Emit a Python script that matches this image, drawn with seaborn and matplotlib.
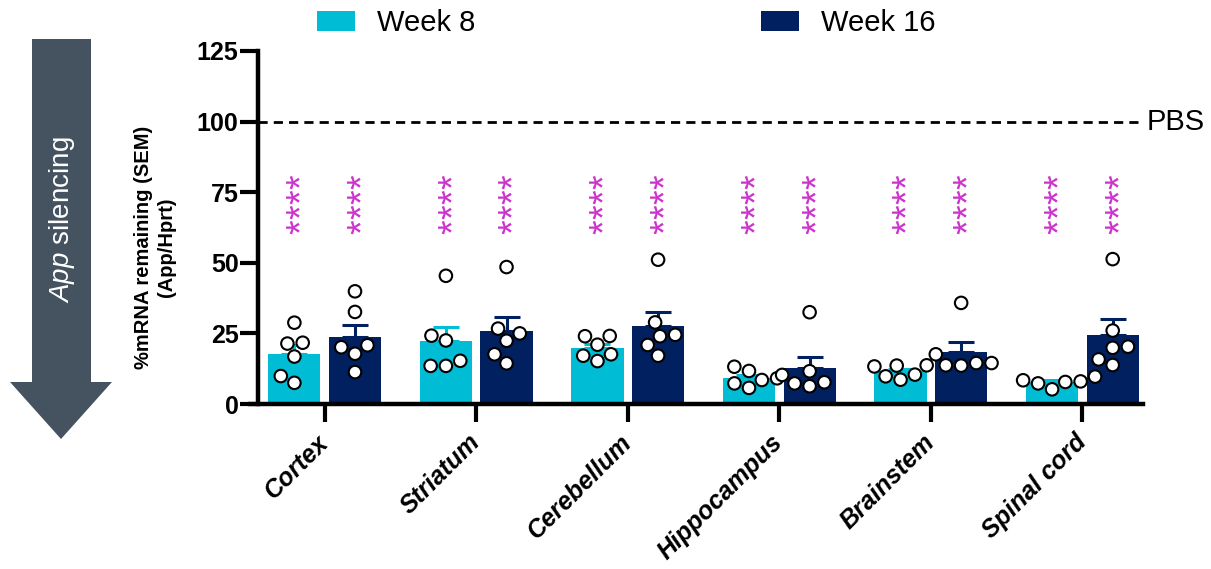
import numpy as np
import pandas as pd
import matplotlib
matplotlib.use("Agg")
import matplotlib.pyplot as plt
from matplotlib.patches import Polygon
import matplotlib.transforms as mtransforms
import seaborn as sns

# ---- data -------------------------------------------------------------
tissues = ["Cortex", "Striatum", "Cerebellum", "Hippocampus", "Brainstem", "Spinal cord"]
weeks = ["Week 8", "Week 16"]

# individual animals, % mRNA remaining (App/Hprt), one list per tissue
week8_points = [
    [28.8, 21.7, 21.4, 16.8, 9.9, 7.5],
    [45.4, 24.2, 22.5, 15.3, 13.5, 13.5],
    [24.0, 24.1, 21.0, 17.6, 17.1, 15.2],
    [13.2, 11.7, 9.1, 8.5, 7.3, 5.7],
    [13.7, 13.6, 13.3, 10.4, 9.8, 8.6],
    [9.7, 8.4, 8.0, 7.8, 7.3, 5.2],
]
week16_points = [
    [39.9, 32.6, 20.8, 20.1, 17.8, 11.3],
    [48.5, 26.7, 25.0, 22.4, 17.6, 14.4],
    [51.1, 28.9, 24.5, 24.0, 20.9, 17.1],
    [32.5, 11.6, 10.3, 7.7, 7.3, 6.3],
    [35.8, 17.6, 14.5, 14.5, 13.7, 13.6],
    [51.3, 26.0, 20.3, 19.9, 15.8, 13.8],
]
significance = ["****"] * 12
pbs_level = 100
y_ticks = [0, 25, 50, 75, 100, 125]

rows = []
for week, groups in zip(weeks, [week8_points, week16_points]):
    for tissue, vals in zip(tissues, groups):
        for v in vals:
            rows.append({"tissue": tissue, "week": week, "value": v})
df = pd.DataFrame(rows)

# ---- style ------------------------------------------------------------
sns.set_style("ticks")
plt.rcParams["font.family"] = ["Liberation Sans", "DejaVu Sans"]
plt.rcParams["mathtext.fontset"] = "custom"
plt.rcParams["mathtext.it"] = "Liberation Sans:italic"
plt.rcParams["mathtext.rm"] = "Liberation Sans"
for key in ["text.color", "axes.edgecolor", "axes.labelcolor",
            "xtick.color", "ytick.color"]:
    plt.rcParams[key] = "black"

cyan = "#00BCD4"
navy = "#00205F"
magenta = "#CC33CC"
palette = {"Week 8": cyan, "Week 16": navy}

W, H = 1211, 569
fig = plt.figure(figsize=(W / 100, H / 100), dpi=100)
ax = fig.add_axes([258 / W, 1 - 404 / H, (1143 - 258) / W, (404 - 51) / H])

sns.barplot(data=df, x="tissue", y="value", hue="week", order=tissues,
            hue_order=weeks, palette=palette, errorbar=None, saturation=1,
            width=0.8, gap=0.14, linewidth=0, ax=ax, zorder=1)
handles, labels = ax.get_legend_handles_labels()
ax.get_legend().remove()
bar_containers = list(ax.containers)

# mean + SEM, upper whisker only, in the bar colour
stats = df.groupby(["week", "tissue"])["value"].agg(["mean", "sem"])
bar_centers = []
for week, container in zip(weeks, bar_containers):
    for tissue, bar in zip(tissues, container):
        m, s = stats.loc[(week, tissue)]
        xc = bar.get_x() + bar.get_width() / 2
        bar_centers.append(xc)
        ax.errorbar(xc, m, yerr=[[0], [s]], color=palette[week], lw=2.2,
                    capsize=9.4, capthick=2.2, zorder=2)

sns.swarmplot(data=df, x="tissue", y="value", hue="week", order=tissues,
              hue_order=weeks, palette={w: "white" for w in weeks}, dodge=True,
              size=9, edgecolor="black", linewidth=1.5, legend=False,
              ax=ax, zorder=3)

# significance stars above each bar, written sideways as in the original
# figure so that each asterisk takes only its advance width vertically
star_fs = 27
star_top = 78.7
star_step = 5.25
for xc, label in zip(bar_centers, significance):
    for k, ch in enumerate(label):
        ax.annotate(ch, xy=(xc, star_top - k * star_step), xytext=(6.2, 0),
                    textcoords="offset points", rotation=90, ha="center",
                    va="center", fontsize=star_fs, color=magenta,
                    annotation_clip=False)

# PBS reference level
ax.axhline(pbs_level, color="black", lw=2, ls=(0, (3.3, 2.2)), zorder=0)
trans = mtransforms.blended_transform_factory(ax.transAxes, ax.transData)
ax.text(1.004, pbs_level, "PBS", transform=trans, ha="left", va="center",
        fontsize=21)

# axes
ax.set_xlim(-0.44, 5.40)
ax.set_ylim(0, 125)
ax.set_yticks(y_ticks)
ax.set_yticklabels([str(t) for t in y_ticks], fontsize=18, fontweight="bold")
ax.set_xticks(range(len(tissues)))
ax.set_xticklabels(tissues, rotation=45, ha="right", va="center",
                   rotation_mode="anchor", fontsize=18, fontweight="bold",
                   fontstyle="italic")
ax.set_xlabel("")
ax.set_ylabel("")
sns.despine(ax=ax)
for side in ["left", "bottom"]:
    ax.spines[side].set_linewidth(3.2)
# baseline runs a little past the value axis on the left
ax.spines["bottom"].set_bounds(-0.49, 5.40)
ax.tick_params(axis="both", length=13, width=3, color="black")
ax.tick_params(axis="y", pad=1)
ax.tick_params(axis="x", pad=12)

fig.text(155 / W, 1 - 247 / H, "%mRNA remaining (SEM)\n(App/Hprt)",
         rotation=90, ha="center", va="center", fontsize=14.5,
         fontweight="bold", multialignment="center", linespacing=1.25)

fig.legend(handles, labels, loc="center", bbox_to_anchor=(0.517, 1 - 23 / H),
           ncol=2, frameon=False, fontsize=21, handlelength=1.3,
           handleheight=0.7, handletextpad=0.75, columnspacing=9.8)

# "silencing" arrow on the left
arrow_px = [(32, 39), (91, 39), (91, 382), (112, 382), (61, 439),
            (10, 382), (32, 382)]
arrow = Polygon([(x / W, 1 - y / H) for x, y in arrow_px], closed=True,
                transform=fig.transFigure, facecolor="#44535F",
                edgecolor="none")
fig.add_artist(arrow)
fig.text(62 / W, 1 - 220 / H, r"$\mathit{App}$ silencing", rotation=90,
         ha="center", va="center", fontsize=20, color="white")

fig.savefig("out.png", dpi=100)
